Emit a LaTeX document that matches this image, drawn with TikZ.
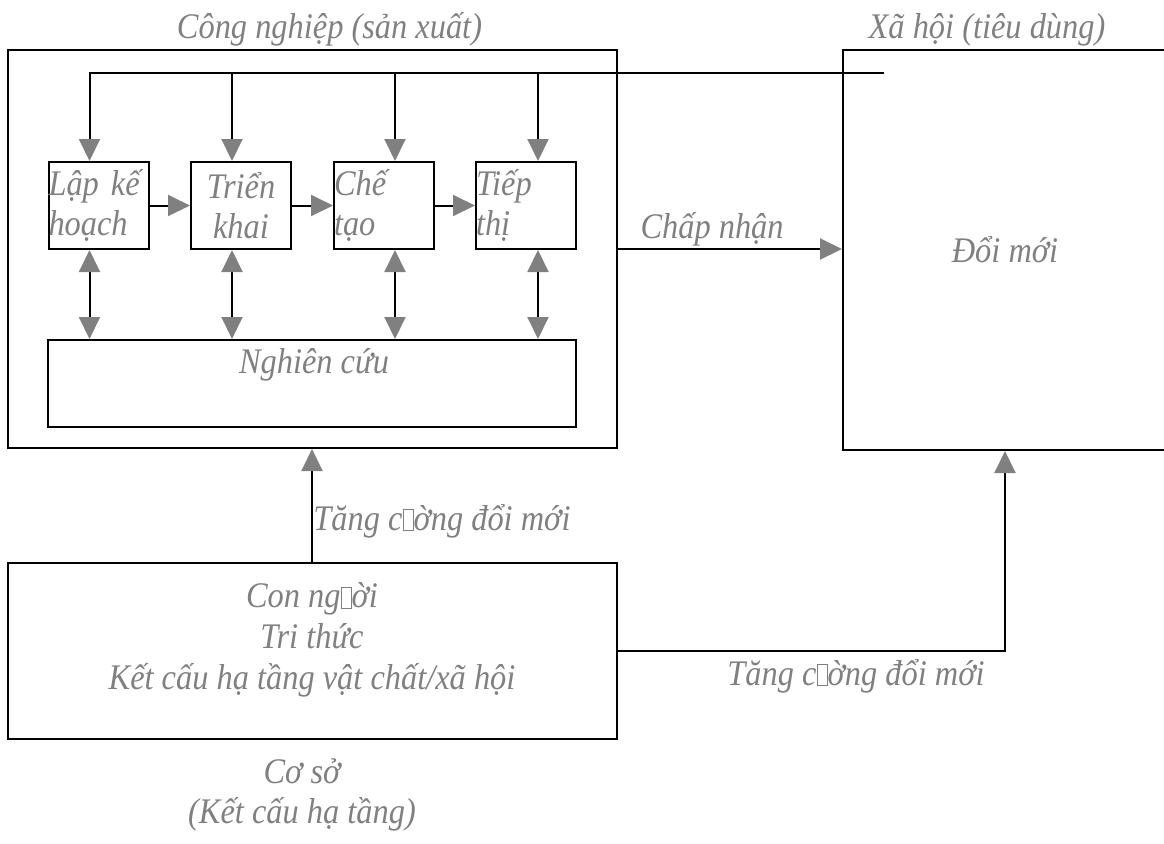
\documentclass[tikz,border=0pt]{standalone}
\usepackage{fontspec}
\setmainfont{Liberation Serif}[FakeStretch=0.9]
\usepackage{tikz}
\usetikzlibrary{positioning, arrows.meta, shapes, calc}
\definecolor{txtgray}{RGB}{128,128,128}
\newcommand{\nochar}{{\fboxsep=0pt\fboxrule=0.5pt\fbox{\rule{0pt}{10pt}\hspace{4.5pt}}}}

\begin{document}
\begin{tikzpicture}[x=0.5pt, y=-0.5pt,
  lbl/.style={text=txtgray, font=\fontsize{18}{20}\selectfont\itshape, inner sep=0pt},
  panel/.style={draw, line width=1pt, lbl},
  stagebox/.style={panel, text width=50pt, minimum height=43.5pt, align=left},
  arr/.style={line width=1pt, -{Triangle[length=11pt, width=10.5pt, color=txtgray]}},
  dblarr/.style={line width=1pt, {Triangle[length=11pt, width=10.5pt, color=txtgray]}-{Triangle[length=11pt, width=10.5pt, color=txtgray]}}]
\useasboundingbox (0,0) rectangle (1164,843);
\node[panel, minimum width=304.5pt, minimum height=199pt] (industry) at (312.5,249) {};
\node[lbl, anchor=base] (industrytitle) at (329.5,38) {Công nghiệp (sản xuất)};
\node[panel, minimum width=162pt, minimum height=200pt] (society) at (1005,250) {Đổi mới};
\node[lbl, anchor=base] (societytitle) at (987,38) {Xã hội (tiêu dùng)};
\node[stagebox] (plan) at (98.5,205.5) {Lập kế\\hoạch};
\node[stagebox, align=center] (deploy) at (241,205.5) {Triển\\khai};
\node[stagebox] (make) at (384,205.5) {Chế\\tạo};
\node[stagebox] (market) at (526,205.5) {Tiếp\\thị};
\node[panel, minimum width=264pt, minimum height=43.5pt] (research) at (312,383.5) {};
\node[lbl, anchor=base] (researchtext) at (314,373) {Nghiên cứu};
\node[panel, minimum width=304.5pt, minimum height=88pt] (basis) at (312,651) {};
\node[lbl, align=center, font=\fontsize{18}{20.5}\selectfont\itshape] (basistext) at (312,640) {Con ng\nochar ời\\Tri thức\\Kết cấu hạ tầng vật chất/xã hội};
\node[lbl, align=center] (basistitle) at (302,795) {Cơ sở\\(Kết cấu hạ tầng)};

\coordinate (feed) at (883,73);
\draw[line width=1pt, line cap=rect] (feed) -- (89.5,73);
\foreach \x/\s in {89.5/plan, 232/deploy, 395/make, 538/market} {
  \coordinate (tap\s) at (\x,73);
  \draw[arr] (tap\s) -- (tap\s |- \s.north);
  \draw[dblarr] (tap\s |- \s.south) -- (tap\s |- research.north);
}
\draw[arr] (plan) -- (deploy);
\draw[arr] (deploy) -- (make);
\draw[arr] (make) -- (market);
\draw[arr] (industry.east) -- (industry.east -| society.west) node[lbl, above, inner sep=1pt, pos=0.42] (accept) {Chấp nhận};
\draw[arr] (basis.north) -- (basis.north |- industry.south);
\node[lbl, anchor=base west] (boostup) at (313,530) {Tăng c\nochar ờng đổi mới};
\draw[arr] (basis.east) -| (society.south);
\node[lbl, anchor=base] (boostright) at (856,685) {Tăng c\nochar ờng đổi mới};
\end{tikzpicture}
\end{document}
